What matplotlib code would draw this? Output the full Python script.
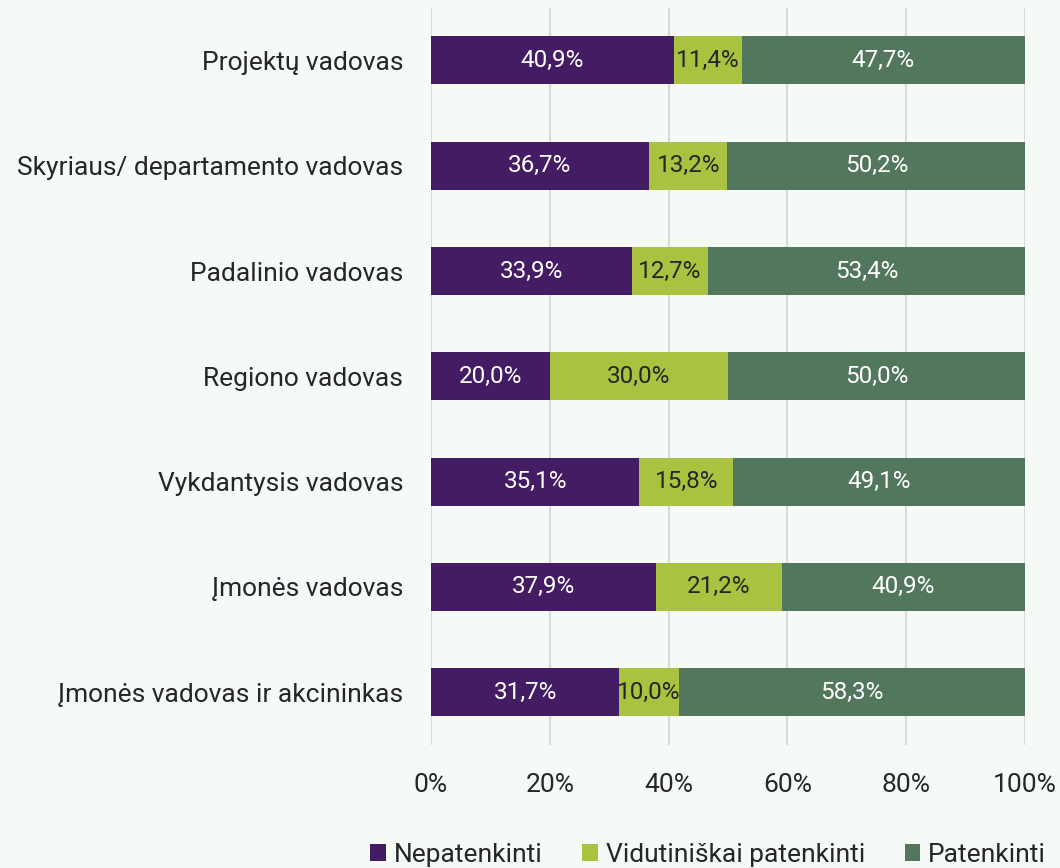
import numpy as np
import matplotlib
matplotlib.use("Agg")
import matplotlib.pyplot as plt
from matplotlib.patches import Patch

plt.rcParams['font.family'] = ['Roboto', 'DejaVu Sans']

categories = ["Projektų vadovas", "Skyriaus/ departamento vadovas", "Padalinio vadovas",
              "Regiono vadovas", "Vykdantysis vadovas", "Įmonės vadovas",
              "Įmonės vadovas ir akcininkas"]
nepatenkinti = [40.9, 36.7, 33.9, 20.0, 35.1, 37.9, 31.7]
vidutiniskai = [11.4, 13.2, 12.7, 30.0, 15.8, 21.2, 10.0]
patenkinti = [47.7, 50.2, 53.4, 50.0, 49.1, 40.9, 58.3]
series_names = ["Nepatenkinti", "Vidutiniškai patenkinti", "Patenkinti"]
colors = ["#441c63", "#a9c23f", "#52775d"]
label_colors = ["white", "#262626", "white"]

bg = "#f5faf7"
fig = plt.figure(figsize=(10.6, 8.68), dpi=100, facecolor=bg)
ax = fig.add_axes([0.4066, 0.142, 0.5604, 0.849], facecolor=bg)

y = np.arange(len(categories))
left = np.zeros(len(categories))
for vals, name, c, lc in zip([nepatenkinti, vidutiniskai, patenkinti], series_names, colors, label_colors):
    vals = np.array(vals)
    bars = ax.barh(y, vals, left=left, height=0.455, color=c, label=name, zorder=3)
    for b, v in zip(bars, vals):
        ax.text(b.get_x() + b.get_width() / 2, b.get_y() + b.get_height() / 2,
                f"{v:.1f}%".replace(".", ","), ha="center", va="center",
                color=lc, fontsize=17.5, zorder=4)
    left += vals

ax.set_xlim(0, 100)
ax.set_ylim(len(categories) - 0.5, -0.5)
ax.set_xticks([0, 20, 40, 60, 80, 100])
ax.set_xticklabels([f"{t}%" for t in [0, 20, 40, 60, 80, 100]])
ax.set_yticks(y)
ax.set_yticklabels(categories)
ax.tick_params(axis="both", length=0, labelsize=19, colors="#262626")
ax.tick_params(axis="y", pad=20)
ax.tick_params(axis="x", pad=20)
ax.grid(axis="x", color="#d9d9d9", linewidth=1.5, zorder=0)
for s in ax.spines.values():
    s.set_visible(False)

handles = [Patch(facecolor=c, label=n) for c, n in zip(colors, series_names)]
fig.legend(handles=handles, loc="lower center", bbox_to_anchor=(0.668, -0.026), ncol=3,
           frameon=False, fontsize=19, handlelength=0.6, handleheight=0.6,
           handletextpad=0.3, columnspacing=1.5, labelcolor="#262626")

fig.savefig("out.png", dpi=100, facecolor=bg)
